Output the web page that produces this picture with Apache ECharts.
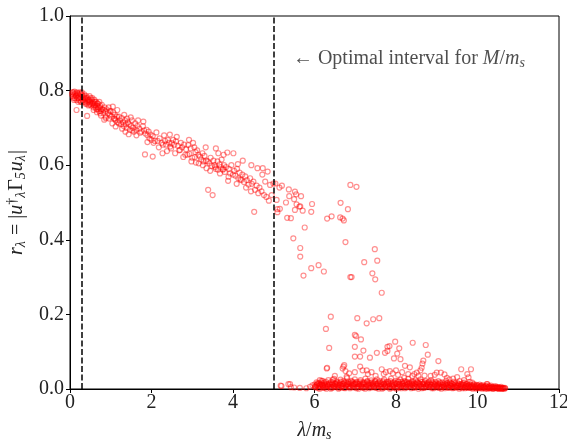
<!DOCTYPE html>
<html>
<head>
<meta charset="utf-8">
<script src="https://cdn.jsdelivr.net/npm/echarts@6/dist/echarts.min.js"></script>
<style>html,body{margin:0;padding:0;background:#fff}#c{width:567px;height:439px}</style>
</head>
<body>
<div id="c"></div>
<script>
// ---- data (λ/m_s, r_λ) ----
var xTicks = [0, 2, 4, 6, 8, 10, 12];
var yTicks = [0.0, 0.2, 0.4, 0.6, 0.8, 1.0];
var intervalLines = [0.3, 5.0];
var annotationPos = [5.47, 0.885];

var bandPoints = [
[0.05,0.79],[0.07,0.785],[0.08,0.795],[0.1,0.79],[0.12,0.78],[0.13,0.792],[0.15,0.787],[0.17,0.795],[0.18,0.78],[0.2,0.79],
[0.22,0.785],[0.23,0.775],[0.25,0.79],[0.27,0.78],[0.28,0.77],[0.3,0.787],[0.32,0.78],[0.33,0.77],[0.35,0.79],[0.37,0.775],
[0.38,0.765],[0.4,0.785],[0.42,0.77],[0.43,0.78],[0.45,0.76],[0.47,0.775],[0.48,0.785],[0.5,0.77],[0.52,0.76],[0.53,0.775],
[0.55,0.78],[0.57,0.765],[0.58,0.755],[0.6,0.775],[0.62,0.76],[0.64,0.77],[0.65,0.75],[0.67,0.765],[0.7,0.755],[0.72,0.77],
[0.74,0.76],[0.75,0.745],[0.78,0.762],[0.8,0.75],[0.82,0.74],[0.85,0.755],[0.87,0.745],[0.88,0.73],[0.9,0.75],[0.93,0.74],
[0.95,0.755],[0.97,0.735],[1.0,0.745],[1.02,0.73],[1.05,0.757],[1.06,0.742],[1.08,0.725],[1.1,0.735],[1.12,0.72],[1.15,0.73],
[1.17,0.715],[1.2,0.73],[1.22,0.72],[1.25,0.71],[1.27,0.726],[1.3,0.715],[1.32,0.705],[1.35,0.72],[1.37,0.71],[1.39,0.70],
[1.4,0.725],[1.42,0.715],[1.45,0.71],[1.47,0.695],[1.5,0.705],[1.52,0.72],[1.55,0.70],[1.57,0.69],[1.6,0.712],[1.62,0.695],
[1.65,0.705],[1.7,0.698],
[0.06,0.795],[0.09,0.78],[0.11,0.797],[0.14,0.785],[0.16,0.775],[0.19,0.793],[0.21,0.78],[0.24,0.795],[0.26,0.77],[0.29,0.795],
[0.31,0.775],[0.34,0.785],[0.36,0.77],[0.39,0.78],[0.41,0.765],[0.44,0.775],[0.46,0.77],[0.49,0.765],[0.51,0.78],[0.54,0.765],
[0.56,0.77],[0.59,0.76],[0.61,0.77],[0.63,0.755],[0.66,0.76],[0.69,0.765],[0.71,0.745],[0.73,0.755],[0.77,0.75],[0.16,0.748],
[0.42,0.732],[0.74,0.739],[0.88,0.726],
[1.75,0.69],[1.8,0.717],[1.82,0.693],[1.85,0.685],[1.88,0.695],[1.9,0.68],[1.93,0.69],[1.95,0.672],[1.98,0.682],[2.0,0.668],
[2.03,0.678],[2.05,0.66],[1.84,0.629],[2.03,0.623],[2.15,0.665],[2.2,0.672],[2.25,0.66],[2.31,0.68],[2.33,0.665],[2.36,0.655],
[2.4,0.668],[2.43,0.66],[2.46,0.65],[2.5,0.659],[2.53,0.668],[2.56,0.655],[2.6,0.664],[2.65,0.652],[2.7,0.641],[2.72,0.66],
[2.75,0.648],
[2.8,0.655],[2.85,0.643],[2.9,0.654],[2.93,0.63],[2.96,0.645],[3.0,0.62],[3.02,0.66],[3.05,0.648],[3.08,0.635],[3.09,0.607],
[3.12,0.64],[3.15,0.628],[3.19,0.623],[3.22,0.615],[3.25,0.632],[3.28,0.61],[3.3,0.625],[3.35,0.592],[3.38,0.61],[3.39,0.534],
[3.42,0.605],[3.45,0.62],[3.48,0.598],[3.5,0.52],[3.52,0.612],[3.55,0.6],[3.58,0.59],
[3.62,0.61],[3.64,0.632],[3.67,0.602],[3.7,0.595],[3.72,0.615],[3.75,0.588],[3.78,0.6],[3.8,0.582],[3.83,0.595],[3.86,0.634],
[3.89,0.569],[3.9,0.59],[3.93,0.578],[3.96,0.6],[4.01,0.632],[4.03,0.585],[4.06,0.572],[4.1,0.59],[4.13,0.565],[4.16,0.58],
[4.2,0.56],[4.23,0.575],[4.27,0.555],[4.3,0.57],[4.34,0.56],[4.38,0.548],[4.42,0.565],[4.46,0.55],[4.5,0.556],[4.52,0.475],
[4.54,0.534],[4.58,0.545],
[4.6,0.592],[4.65,0.54],[4.7,0.53],[4.73,0.592],[4.76,0.52],[4.79,0.556],[4.82,0.515],[4.88,0.505],[4.91,0.547],[4.95,0.52],
[4.99,0.551],[5.04,0.551],[5.07,0.507],[5.09,0.482],[5.14,0.54],[5.15,0.483],[5.09,0.474],[5.2,0.545]
];

var bandSpread = [
[0.58,0.748],[0.66,0.742],[0.76,0.733],[0.84,0.722],[0.96,0.725],[1.04,0.712],[1.12,0.704],[1.2,0.712],[1.28,0.698],[1.36,0.69],
[1.44,0.683],[1.53,0.693],[1.63,0.68],[1.72,0.687],[1.9,0.662],[2.08,0.665],[2.18,0.648],[2.28,0.655],[2.38,0.638],[2.48,0.645],
[2.58,0.632],[2.68,0.64],[2.78,0.622],[2.88,0.628],[2.98,0.61],[3.06,0.622],[3.16,0.605],[3.26,0.6],[3.34,0.612],[3.44,0.585],
[3.56,0.595],[3.68,0.578],[3.76,0.59],[3.88,0.558],[4.0,0.575],[4.09,0.55],[4.18,0.562],[4.32,0.54],[4.44,0.53],[4.62,0.525],
[1.16,0.748],[1.33,0.735],[1.49,0.728],[1.67,0.72],[1.79,0.705],[2.12,0.688],[2.45,0.682],[2.62,0.676],[2.92,0.668],[3.33,0.648],
[3.58,0.645],[3.77,0.628],[4.24,0.612],[4.45,0.6],[4.72,0.575],[4.85,0.583],[2.27,0.632],[2.83,0.628],[3.63,0.588],[4.12,0.603],
[0.1,0.775],[0.2,0.77],[0.27,0.792],[0.36,0.78],[0.47,0.762],[0.6,0.765],[0.68,0.75],[0.83,0.748],[0.98,0.745],[1.1,0.725]
];

var scatterPoints = [
[5.3,0.5],[5.37,0.535],[5.38,0.517],[5.52,0.529],[5.55,0.522],[5.67,0.517],[5.5,0.509],[5.56,0.495],[5.63,0.489],[5.65,0.49],
[5.71,0.478],[5.52,0.48],[5.42,0.458],[5.33,0.459],[5.94,0.496],[5.92,0.475],[5.76,0.433],[5.48,0.404],[5.65,0.378],[5.65,0.355],
[5.73,0.304],[5.92,0.324],[6.1,0.332],[6.23,0.315],[6.88,0.547],[7.03,0.542],[6.64,0.499],[6.82,0.482],[6.31,0.457],[6.42,0.463],
[6.63,0.46],[6.69,0.457],[6.72,0.452],[6.76,0.394],[7.48,0.375],[7.22,0.34],[7.54,0.344],[7.42,0.31],[7.49,0.294],[6.88,0.3],
[6.91,0.3],
[6.4,0.194],[6.28,0.161],[6.36,0.11],[6.3,0.055],[6.31,0.057],[7.05,0.19],[7.28,0.176],[7.44,0.187],[7.59,0.19],[7.65,0.258],
[7.02,0.142],[6.99,0.145],[7.14,0.133],[6.99,0.113],[7.2,0.103],[6.99,0.087],[7.12,0.087],[7.36,0.084],[7.53,0.097],[7.73,0.097],
[7.79,0.113],[7.84,0.115],[7.79,0.102],[7.98,0.127],[8.08,0.109],[8.03,0.095],[7.95,0.082],[8.11,0.080],[8.22,0.062],[8.34,0.058],
[8.41,0.124],[8.73,0.118],[8.78,0.092],[8.67,0.076],[8.65,0.068],[8.63,0.057],[8.51,0.044],[9.04,0.075],[9.0,0.044],[9.1,0.044],
[9.19,0.039],[9.31,0.026],[9.6,0.053],[9.84,0.053],[9.78,0.031],[9.67,0.024],[9.87,0.017],[10.24,0.013],[6.73,0.064],[6.71,0.06],
[6.69,0.055],[6.76,0.048],[6.85,0.042],[6.99,0.045],[7.12,0.06],[7.18,0.05],[7.28,0.05],[7.31,0.04],[7.4,0.045],[7.65,0.053],
[7.7,0.04],[7.75,0.045],[7.85,0.048],[7.92,0.042],[8.0,0.05],[8.05,0.038],[8.15,0.045],[8.3,0.04],[8.4,0.035],[8.45,0.04],
[8.55,0.035],[8.6,0.05],[8.7,0.036],[8.85,0.035],[8.95,0.038],[9.25,0.03],[9.4,0.028],[9.5,0.032],[9.75,0.04],[6.79,0.033],
[6.5,0.035],[6.45,0.025],[6.2,0.022],[6.13,0.024],[7.5,0.035],[8.2,0.03]
];

var floorPoints = [
[5.17,0.009],[5.19,0.008],[5.36,0.013],[5.4,0.013],[5.42,0.005],[5.5,0.004],[5.64,0.003],[5.89,0.006],[5.95,0.01],[5.8,0.002],
[6.00,0.012],[6.03,0.004],[6.05,0.018],[6.08,0.008],[6.10,0.002],[6.12,0.015],[6.15,0.006],[6.17,0.022],[6.19,0.011],[6.22,0.003],
[6.24,0.017],[6.27,0.009],[6.29,0.001],[6.31,0.014],[6.34,0.024],[6.36,0.006],[6.38,0.012],[6.41,0.019],[6.43,0.003],[6.45,0.01],
[6.48,0.027],[6.5,0.015],[6.52,0.005],[6.55,0.02],[6.57,0.009],[6.59,0.001],[6.62,0.016],[6.64,0.025],[6.66,0.007],[6.69,0.013],
[6.71,0.021],[6.73,0.003],[6.76,0.011],[6.78,0.018],[6.8,0.029],[6.83,0.006],[6.85,0.014],[6.87,0.002],[6.9,0.022],[6.92,0.01],
[6.94,0.017],[6.97,0.004],[6.99,0.026],[7.01,0.012],[7.04,0.019],[7.06,0.007],[7.08,0.001],[7.11,0.015],[7.13,0.024],[7.15,0.009],
[7.18,0.017],[7.2,0.003],[7.22,0.012],[7.25,0.028],[7.27,0.006],[7.29,0.02],[7.32,0.011],[7.34,0.002],[7.36,0.016],[7.39,0.023],
[7.41,0.008],[7.43,0.013],[7.46,0.004],[7.48,0.019],[7.5,0.01],[7.53,0.026],[7.55,0.015],[7.57,0.001],[7.6,0.021],[7.62,0.007],
[7.64,0.012],[7.67,0.018],[7.69,0.003],[7.71,0.025],[7.74,0.01],[7.76,0.016],[7.78,0.005],[7.81,0.02],[7.83,0.013],[7.85,0.001],
[7.88,0.028],[7.9,0.008],[7.92,0.017],[7.95,0.011],[7.97,0.003],[7.99,0.022],[8.02,0.014],[8.04,0.006],[8.06,0.019],[8.09,0.01],
[8.11,0.025],[8.13,0.002],[8.16,0.015],[8.18,0.008],[8.2,0.021],[8.23,0.012],[8.25,0.004],[8.27,0.018],[8.3,0.027],[8.32,0.009],
[8.34,0.014],[8.37,0.002],[8.39,0.02],[8.41,0.011],[8.44,0.016],[8.46,0.005],[8.48,0.023],[8.51,0.01],[8.53,0.017],[8.55,0.001],
[8.58,0.013],[8.6,0.026],[8.62,0.007],[8.65,0.019],[8.67,0.012],[8.69,0.003],[8.72,0.022],[8.74,0.009],[8.76,0.015],[8.79,0.005],
[8.81,0.02],[8.83,0.011],[8.86,0.024],[8.88,0.002],[8.9,0.016],[8.93,0.008],[8.95,0.013],[8.97,0.019],[9.0,0.004],[9.02,0.011],
[9.04,0.021],[9.07,0.007],[9.09,0.015],[9.11,0.001],[9.14,0.018],[9.16,0.01],[9.18,0.005],[9.21,0.014],[9.23,0.022],[9.25,0.008],
[9.28,0.012],[9.3,0.003],[9.32,0.017],[9.35,0.009],[9.37,0.014],[9.39,0.002],[9.42,0.019],[9.44,0.007],[9.46,0.012],[9.49,0.004],
[9.51,0.016],[9.53,0.01],[9.56,0.021],[9.58,0.006],[9.6,0.013],[9.63,0.002],[9.65,0.011],[9.67,0.017],[9.7,0.005],[9.72,0.009],
[9.74,0.014],[9.77,0.003],[9.79,0.011],[9.81,0.019],[9.84,0.006],[9.86,0.01],[9.88,0.001],[9.91,0.013],[9.93,0.007],[9.95,0.004],
[9.98,0.011],[10.0,0.008],[10.02,0.002],[10.05,0.012],[10.07,0.006],[10.09,0.009],[10.12,0.003],[10.14,0.01],[10.16,0.005],[10.19,0.001],
[10.21,0.008],[10.23,0.013],[10.26,0.004],[10.28,0.007],[10.3,0.002],[10.33,0.009],[10.35,0.005],[10.37,0.001],[10.4,0.006],[10.42,0.003],
[10.44,0.008],[10.47,0.002],[10.49,0.005],[10.51,0.001],[10.54,0.004],[10.56,0.002],[10.58,0.006],[10.61,0.001],[10.63,0.003],[10.66,0.001],
[10.68,0.002]
];

var floorLayer2 = [
[6.02,0.007],[6.07,0.014],[6.13,0.001],[6.2,0.009],[6.26,0.004],[6.33,0.008],[6.4,0.001],[6.47,0.006],[6.54,0.011],[6.61,0.003],
[6.68,0.008],[6.75,0.002],[6.82,0.009],[6.89,0.005],[6.96,0.013],[7.03,0.002],[7.1,0.008],[7.17,0.005],[7.24,0.001],[7.31,0.007],
[7.38,0.004],[7.45,0.009],[7.52,0.003],[7.59,0.008],[7.66,0.001],[7.73,0.006],[7.8,0.009],[7.87,0.003],[7.94,0.006],[8.01,0.001],
[8.08,0.004],[8.15,0.009],[8.22,0.002],[8.29,0.006],[8.36,0.01],[8.43,0.003],[8.5,0.006],[8.57,0.008],[8.64,0.002],[8.71,0.005],
[8.78,0.01],[8.85,0.006],[8.92,0.002],[8.99,0.008],[9.06,0.003],[9.13,0.006],[9.2,0.002],[9.27,0.005],[9.34,0.008],[9.41,0.003],
[9.48,0.007],[9.55,0.001],[9.62,0.006],[9.69,0.002],[9.76,0.007],[9.83,0.003],[9.9,0.004],[9.97,0.001],[10.04,0.004],[10.11,0.001],
[10.18,0.004],[10.25,0.001],[10.32,0.003],[10.39,0.001],[10.46,0.003],[10.53,0.001],[10.6,0.002]
];

var floorLayer3 = [
[6.04,0.01],[6.09,0.016],[6.14,0.011],[6.18,0.017],[6.23,0.013],[6.28,0.019],[6.32,0.01],[6.37,0.016],[6.42,0.012],[6.46,0.018],
[6.51,0.013],[6.56,0.017],[6.6,0.011],[6.65,0.02],[6.7,0.015],[6.74,0.018],[6.79,0.012],[6.84,0.019],[6.88,0.015],[6.93,0.02],
[6.98,0.013],[7.02,0.017],[7.07,0.014],[7.12,0.02],[7.16,0.013],[7.21,0.018],[7.26,0.015],[7.3,0.021],[7.35,0.012],[7.4,0.018],
[7.44,0.016],[7.49,0.021],[7.54,0.012],[7.58,0.018],[7.63,0.015],[7.68,0.021],[7.72,0.014],[7.77,0.019],[7.82,0.016],[7.86,0.021],
[7.91,0.013],[7.96,0.018],[8.0,0.015],[8.05,0.021],[8.1,0.014],[8.14,0.019],[8.19,0.016],[8.24,0.02],[8.28,0.013],[8.33,0.018],
[8.38,0.015],[8.42,0.02],[8.47,0.014],[8.52,0.019],[8.56,0.016],[8.61,0.02],[8.66,0.014],[8.7,0.018],[8.75,0.013],[8.8,0.017],
[8.84,0.014],[8.89,0.019],[8.94,0.012],[8.98,0.016],[9.03,0.014],[9.08,0.018],[9.12,0.011],[9.17,0.015],[9.22,0.012],[9.26,0.016],
[9.31,0.011],[9.36,0.015],[9.4,0.012],[9.45,0.016],[9.5,0.01],[9.54,0.014],[9.59,0.011],[9.64,0.015],[9.68,0.01],[9.73,0.013],
[9.78,0.009],[9.82,0.012],[9.87,0.008],[9.92,0.011],[9.96,0.008],[10.01,0.01],[10.06,0.007],[10.1,0.009],[10.15,0.006],[10.2,0.008],
[10.24,0.005],[10.29,0.007],[10.34,0.004],[10.38,0.006],[10.43,0.004],[10.48,0.005],[10.52,0.003],[10.57,0.004],[10.62,0.002],[10.67,0.003]
];

var floorLayer4 = [
[6.01,0.005],[6.06,0.011],[6.11,0.008],[6.16,0.013],[6.21,0.006],[6.25,0.011],[6.3,0.007],[6.35,0.013],[6.39,0.005],[6.44,0.012],
[6.49,0.008],[6.53,0.014],[6.58,0.006],[6.63,0.011],[6.67,0.004],[6.72,0.013],[6.77,0.008],[6.81,0.014],[6.86,0.006],[6.91,0.012],
[6.95,0.008],[7.0,0.015],[7.05,0.005],[7.09,0.012],[7.14,0.007],[7.19,0.013],[7.23,0.006],[7.28,0.011],[7.33,0.015],[7.37,0.007],
[7.42,0.012],[7.47,0.006],[7.51,0.014],[7.56,0.008],[7.61,0.012],[7.65,0.005],[7.7,0.013],[7.75,0.007],[7.79,0.013],[7.84,0.006],
[7.89,0.012],[7.93,0.008],[7.98,0.014],[8.03,0.005],[8.07,0.012],[8.12,0.007],[8.17,0.013],[8.21,0.006],[8.26,0.011],[8.31,0.015],
[8.35,0.006],[8.4,0.012],[8.45,0.008],[8.49,0.014],[8.54,0.006],[8.59,0.011],[8.63,0.005],[8.68,0.013],[8.73,0.007],[8.77,0.012],
[8.82,0.006],[8.87,0.011],[8.91,0.005],[8.96,0.01],[9.01,0.007],[9.05,0.012],[9.1,0.005],[9.15,0.01],[9.19,0.007],[9.24,0.011],
[9.29,0.005],[9.33,0.01],[9.38,0.006],[9.43,0.01],[9.47,0.005],[9.52,0.009],[9.57,0.004],[9.61,0.009],[9.66,0.005],[9.71,0.008],
[9.75,0.004],[9.8,0.007],[9.85,0.004],[9.89,0.007],[9.94,0.003],[9.99,0.006],[10.03,0.003],[10.08,0.005],[10.13,0.003],[10.17,0.006],
[10.22,0.002],[10.27,0.004],[10.31,0.002],[10.36,0.004],[10.41,0.002],[10.45,0.004],[10.5,0.002],[10.55,0.003],[10.59,0.001],[10.64,0.002]
];

var allPoints = bandPoints.concat(bandSpread, scatterPoints, floorPoints, floorLayer2, floorLayer3, floorLayer4);

var FONT = '"Liberation Serif", "DejaVu Serif", serif';
var TXT = '#222';
var chart = echarts.init(document.getElementById('c'), null, {renderer: 'canvas'});

var markerStyle = {color: 'rgba(255,0,0,0)', borderColor: 'rgba(255,0,0,0.55)', borderWidth: 1.2};

chart.setOption({
  animation: false,
  backgroundColor: '#fff',
  grid: {left: 70, right: 8, top: 16, bottom: 50, containLabel: false, outerBoundsMode: 'none',
         show: true, borderColor: '#000', borderWidth: 1, backgroundColor: 'transparent'},
  xAxis: {
    type: 'value', min: xTicks[0], max: xTicks[xTicks.length - 1], interval: 2,
    axisLine: {show: true, lineStyle: {color: '#000', width: 1}},
    axisTick: {show: true, length: 4, inside: false, lineStyle: {color: '#000'}},
    splitLine: {show: false},
    axisLabel: {color: TXT, fontFamily: FONT, fontSize: 20, margin: 4},
    name: '{i|λ}{n|/}{i|m}{s|s}',
    nameLocation: 'middle', nameGap: 30,
    nameTextStyle: {
      fontFamily: FONT, fontSize: 20, color: TXT,
      rich: {
        i: {fontFamily: FONT, fontSize: 20, fontStyle: 'italic', color: TXT},
        n: {fontFamily: FONT, fontSize: 20, color: TXT},
        s: {fontFamily: FONT, fontSize: 14, fontStyle: 'italic', color: TXT, verticalAlign: 'bottom', padding: [9, 0, 0, 0]}
      }
    }
  },
  yAxis: {
    type: 'value', min: yTicks[0], max: yTicks[yTicks.length - 1], interval: 0.2,
    axisLine: {show: true, lineStyle: {color: '#000', width: 1}},
    axisTick: {show: true, length: 4, inside: false, lineStyle: {color: '#000'}},
    splitLine: {show: false},
    axisLabel: {color: TXT, fontFamily: FONT, fontSize: 20, margin: 6, formatter: function (v) { return v.toFixed(1); }},
    name: '{i|r}{s|λ}{n| = |}{i|u}{sup|†}{s|λ}{n|Γ}{s|5}{i|u}{s|λ}{n||}',
    nameLocation: 'middle', nameGap: 38, nameRotate: 90,
    nameTextStyle: {
      fontFamily: FONT, fontSize: 20, color: TXT,
      rich: {
        i: {fontFamily: FONT, fontSize: 20, fontStyle: 'italic', color: TXT},
        n: {fontFamily: FONT, fontSize: 20, color: TXT},
        s: {fontFamily: FONT, fontSize: 14, fontStyle: 'italic', color: TXT, verticalAlign: 'bottom', padding: [9, 1, 0, 0]},
        sup: {fontFamily: FONT, fontSize: 14, color: TXT, verticalAlign: 'top', padding: [0, 0, 9, 0]}
      }
    }
  },
  series: [
    {
      type: 'scatter', data: allPoints, symbol: 'circle', symbolSize: 5,
      itemStyle: markerStyle, large: false, silent: true, z: 2,
      markLine: {
        silent: true, symbol: ['none', 'none'], label: {show: false},
        lineStyle: {color: '#000', width: 1.5, type: [6, 2.5]},
        data: intervalLines.map(function (v) { return {xAxis: v}; }),
        z: 5
      }
    },
    {
      type: 'scatter', data: [annotationPos], symbolSize: 0, silent: true, z: 6,
      label: {
        show: true, position: 'right', distance: 0,
        formatter: '{n|← Optimal interval for }{i|M}{n|/}{i|m}{s|s}',
        rich: {
          n: {fontFamily: FONT, fontSize: 20, color: TXT},
          i: {fontFamily: FONT, fontSize: 20, fontStyle: 'italic', color: TXT},
          s: {fontFamily: FONT, fontSize: 14, fontStyle: 'italic', color: TXT, verticalAlign: 'bottom', padding: [9, 0, 0, 0]}
        }
      }
    }
  ]
});
</script>
</body>
</html>
